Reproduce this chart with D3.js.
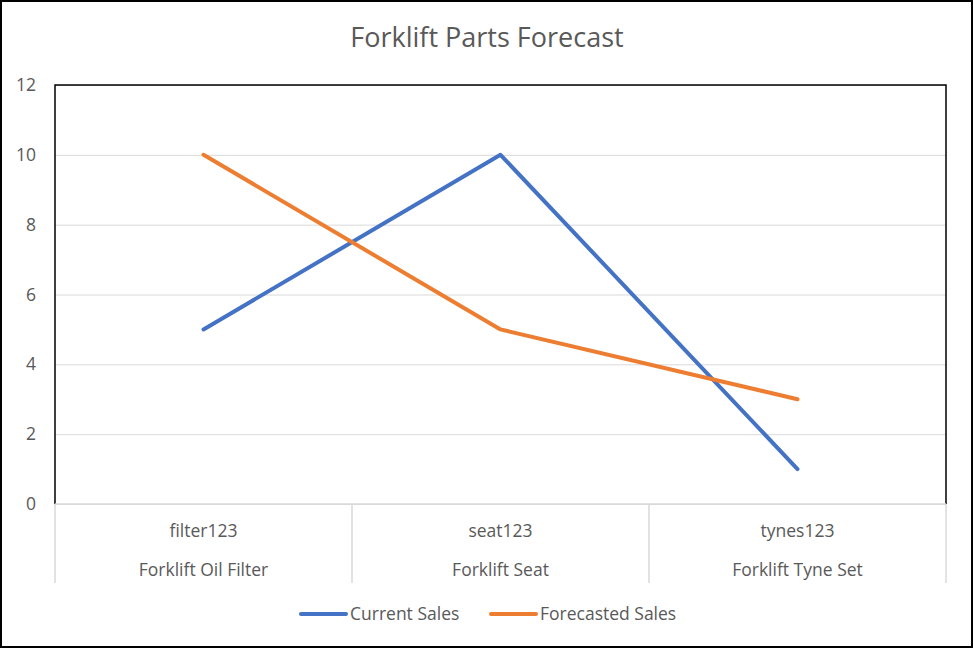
<!DOCTYPE html>
<html>
<head>
<meta charset="utf-8">
<script src="https://cdn.jsdelivr.net/npm/d3@7"></script>
<style>
  body { margin: 0; background: #fff; }
  svg { display: block; font-family: "Open Sans", "Noto Sans", sans-serif; }
</style>
</head>
<body>
<div id="chart"></div>
<script>
const codes = ["filter123", "seat123", "tynes123"];
const names = ["Forklift Oil Filter", "Forklift Seat", "Forklift Tyne Set"];
const currentSales = [5, 10, 1];
const forecastedSales = [10, 5, 3];
const yTicks = [0, 2, 4, 6, 8, 10, 12];

const series = [
  { name: "Current Sales", values: currentSales, color: "#4472C4" },
  { name: "Forecasted Sales", values: forecastedSales, color: "#ED7D31" }
];

const width = 973;
const height = 648;
const plot = { left: 55, right: 946, top: 85, bottom: 504 };
const labelSize = "17.5px";

const svg = d3.select("#chart")
  .append("svg")
  .attr("width", width)
  .attr("height", height);

// outer frame
svg.append("rect")
  .attr("x", 1).attr("y", 1)
  .attr("width", width - 2).attr("height", height - 2)
  .attr("fill", "#fff")
  .attr("stroke", "#000")
  .attr("stroke-width", 2);

const xScale = d3.scaleBand()
  .domain(codes)
  .range([plot.left, plot.right]);

const yScale = d3.scaleLinear()
  .domain([0, 12])
  .range([plot.bottom, plot.top]);

// gridlines
svg.append("g")
  .attr("transform", `translate(${plot.left},0)`)
  .call(d3.axisLeft(yScale).tickValues(yTicks).tickSize(-(plot.right - plot.left)).tickFormat(""))
  .call(g => g.select(".domain").remove())
  .selectAll("line")
  .attr("stroke", "#d9d9d9");

// y labels
svg.append("g")
  .selectAll("text")
  .data(yTicks)
  .join("text")
  .attr("x", 36)
  .attr("y", d => yScale(d))
  .attr("dy", "0.35em")
  .attr("text-anchor", "end")
  .attr("fill", "#595959")
  .style("font-size", labelSize)
  .text(d => d);

// plot border (left, top, right)
svg.append("path")
  .attr("d", `M${plot.left},${plot.bottom}V${plot.top}H${plot.right}V${plot.bottom}`)
  .attr("fill", "none")
  .attr("stroke", "#000")
  .attr("stroke-width", 1.5);

// category axis
const axisBottom = 583;
const xAxis = svg.append("g");
xAxis.append("line")
  .attr("x1", plot.left).attr("x2", plot.right)
  .attr("y1", plot.bottom).attr("y2", plot.bottom)
  .attr("stroke", "#d9d9d9")
  .attr("stroke-width", 1.5);

const seps = codes.map(c => xScale(c)).concat([plot.right]);
xAxis.selectAll(".sep")
  .data(seps)
  .join("line")
  .attr("class", "sep")
  .attr("x1", d => d).attr("x2", d => d)
  .attr("y1", plot.bottom).attr("y2", axisBottom)
  .attr("stroke", "#d9d9d9")
  .attr("stroke-width", 1.5);

xAxis.selectAll(".code")
  .data(codes)
  .join("text")
  .attr("class", "code")
  .attr("x", d => xScale(d) + xScale.bandwidth() / 2)
  .attr("y", 531)
  .attr("dy", "0.35em")
  .attr("text-anchor", "middle")
  .attr("fill", "#595959")
  .style("font-size", labelSize)
  .text(d => d);

xAxis.selectAll(".name")
  .data(names)
  .join("text")
  .attr("class", "name")
  .attr("x", (d, i) => xScale(codes[i]) + xScale.bandwidth() / 2)
  .attr("y", 570)
  .attr("dy", "0.35em")
  .attr("text-anchor", "middle")
  .attr("fill", "#595959")
  .style("font-size", labelSize)
  .text(d => d);

// lines
const line = d3.line()
  .x((d, i) => xScale(codes[i]) + xScale.bandwidth() / 2)
  .y(d => yScale(d));

svg.append("g")
  .selectAll("path")
  .data(series)
  .join("path")
  .attr("d", d => line(d.values))
  .attr("fill", "none")
  .attr("stroke", d => d.color)
  .attr("stroke-width", 4)
  .attr("stroke-linejoin", "round")
  .attr("stroke-linecap", "round");

// title
svg.append("text")
  .attr("x", 487)
  .attr("y", 38)
  .attr("dy", "0.35em")
  .attr("text-anchor", "middle")
  .attr("fill", "#595959")
  .style("font-size", "27px")
  .text("Forklift Parts Forecast");

// legend
const legendX = [300, 490];
const legend = svg.append("g")
  .selectAll("g")
  .data(series)
  .join("g")
  .attr("transform", (d, i) => `translate(${legendX[i]},614)`);

legend.append("line")
  .attr("x1", 1).attr("x2", 46)
  .attr("stroke", d => d.color)
  .attr("stroke-width", 4)
  .attr("stroke-linecap", "round");

legend.append("text")
  .attr("x", 50)
  .attr("dy", "0.35em")
  .attr("fill", "#595959")
  .style("font-size", labelSize)
  .text(d => d.name);
</script>
</body>
</html>
